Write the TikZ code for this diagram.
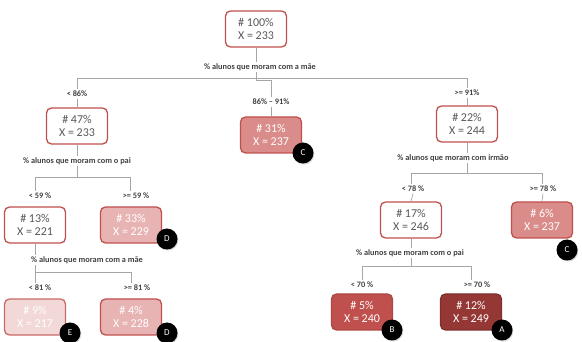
\documentclass[tikz,border=0pt]{standalone}
\usepackage{fontspec}
\setmainfont{Carlito}
\usetikzlibrary{shadows}
\definecolor{nodered}{HTML}{C0504D}
\definecolor{textgray}{HTML}{595959}
\definecolor{labgray}{HTML}{404040}
\definecolor{linegray}{HTML}{A6A6A6}
\definecolor{fillmid}{HTML}{D98C8A}
\definecolor{filllight}{HTML}{E8B4B3}
\definecolor{fillpale}{HTML}{F2D8D7}
\definecolor{filldark}{HTML}{953735}
\begin{document}
\begin{tikzpicture}[x=1pt,y=-1pt,
  tnode/.style={draw=nodered, line width=1.3pt, rounded corners=5pt, minimum width=61pt, minimum height=36pt, align=center, inner sep=1pt, font=\fontsize{12}{13}\selectfont, text=textgray, fill=white},
  fnode/.style={tnode, text=white},
  split/.style={font=\bfseries\fontsize{8.3}{9}\selectfont, text=labgray, inner sep=1.5pt},
  conn/.style={draw=linegray, line width=0.7pt},
  badge/.style={circle, fill=black, text=white, minimum size=21pt, inner sep=0pt, font=\fontsize{9}{10}\selectfont, drop shadow={opacity=0.35, shadow xshift=0.8pt, shadow yshift=-1pt}}
]
\useasboundingbox (0,0) rectangle (582,342);

% ---- level 0
\node[tnode] (n0) at (256,29) {\# 100\%\\X = 233};
\node[split] (s0) at (260,67) {\% alunos que moram com a mãe};
\coordinate (b0L) at (77,78);
\coordinate (b0R) at (467,78);
\coordinate (b0M) at (256,78);
\coordinate (b0E) at (256,80.5);
\coordinate (b0F) at (271,80.5);
\node[split] (l1) at (77,94) {< 86\%};
\node[split] (l2) at (271,102) {86\% – 91\%};
\node[split] (l3) at (467,93) {>= 91\%};
\draw[conn] (n0.south) -- (n0.south |- s0.north);
\draw[conn] (s0.south -| b0M) -- (b0M);
\draw[conn] (b0L) -- (b0R);
\draw[conn] (b0M) -- (b0E) -- (b0F) -- (l2.north);
\draw[conn] (b0L) -- (l1.north);
\draw[conn] (b0R) -- (l3.north);

% ---- level 1
\node[tnode] (n1) at (77,126) {\# 47\%\\X = 233};
\node[fnode, fill=fillmid] (n2) at (271,135) {\# 31\%\\X = 237};
\node[tnode] (n3) at (467,124) {\# 22\%\\X = 244};
\draw[conn] (l1.south) -- (n1.north);
\draw[conn] (l2.south) -- (n2.north);
\draw[conn] (l3.south) -- (n3.north);
\node[badge] (bc1) at (303,153) {C};

% ---- left subtree
\node[split] (s1) at (77,161) {\% alunos que moram com o pai};
\draw[conn] (n1.south) -- (s1.north);
\coordinate (b1L) at (35,177);
\coordinate (b1R) at (130,177);
\coordinate (b1M) at (77,177);
\draw[conn] (s1.south) -- (b1M);
\draw[conn] (b1L) -- (b1R);
\node[split] (l4) at (40,196) {< 59 \%};
\node[split] (l5) at (136,196) {>= 59 \%};
\draw[conn] (b1L) -- (b1L |- l4.north);
\draw[conn] (b1R) -- (b1R |- l5.north);
\node[tnode] (n4) at (35,225) {\# 13\%\\X = 221};
\node[fnode, fill=filllight] (n5) at (131,225) {\# 33\%\\X = 229};
\node[badge] (bd1) at (167,239) {D};

\node[split] (s3) at (87,260) {\% alunos que moram com a mãe};
\draw[conn] (n4.south) -- (n4.south |- s3.north);
\coordinate (b3L) at (35,272);
\coordinate (b3R) at (131,272);
\draw[conn] (s3.south -| b3L) -- (b3L);
\draw[conn] (b3L) -- (b3R);
\node[split] (l7) at (40,288) {< 81 \%};
\node[split] (l8) at (137,288) {>= 81 \%};
\draw[conn] (b3L) -- (b3L |- l7.north);
\draw[conn] (b3R) -- (b3R |- l8.north);
\node[fnode, fill=fillpale, draw=nodered!85] (n7) at (35,317) {\# 9\%\\X = 217};
\node[fnode, fill=filllight] (n8) at (131,317) {\# 4\%\\X = 228};
\node[badge] (be) at (70,333) {E};
\node[badge] (bd2) at (167,333) {D};

% ---- right subtree
\node[split] (s2) at (453,158) {\% alunos que moram com irmão};
\draw[conn] (n3.south) -- (n3.south |- s2.north);
\coordinate (b2L) at (411,173);
\coordinate (b2R) at (542,173);
\coordinate (b2M) at (467,173);
\draw[conn] (s2.south -| b2M) -- (b2M);
\draw[conn] (b2L) -- (b2R);
\node[split] (l9) at (413,189) {< 78 \%};
\node[split] (l10) at (543,189) {>= 78 \%};
\draw[conn] (b2L) -- (b2L |- l9.north);
\draw[conn] (b2R) -- (b2R |- l10.north);
\node[tnode] (n9) at (411,220) {\# 17\%\\X = 246};
\node[fnode, fill=fillmid] (n10) at (542,220) {\# 6\%\\X = 237};
\draw[conn] (l9.south) -- (n9.north);
\draw[conn] (l10.south) -- (n10.north);
\node[badge] (bc2) at (567,250) {C};

\node[split] (s4) at (410,253) {\% alunos que moram com o pai};
\draw[conn] (n9.south) -- (n9.south |- s4.north);
\coordinate (b4L) at (362,266);
\coordinate (b4R) at (471,266);
\coordinate (b4M) at (411,266);
\draw[conn] (s4.south -| b4M) -- (b4M);
\draw[conn] (b4L) -- (b4R);
\node[split] (l11) at (362,285) {< 70 \%};
\node[split] (l12) at (477,285) {>= 70 \%};
\draw[conn] (b4L) -- (b4L |- l11.north);
\draw[conn] (b4R) -- (b4R |- l12.north);
\node[fnode, fill=nodered, draw=nodered!90!black] (n11) at (362,312) {\# 5\%\\X = 240};
\node[fnode, fill=filldark, draw=filldark!85!black] (n12) at (471,312) {\# 12\%\\X = 249};
\node[badge] (bb) at (392,330) {B};
\node[badge] (ba) at (502,330) {A};
\end{tikzpicture}
\end{document}
